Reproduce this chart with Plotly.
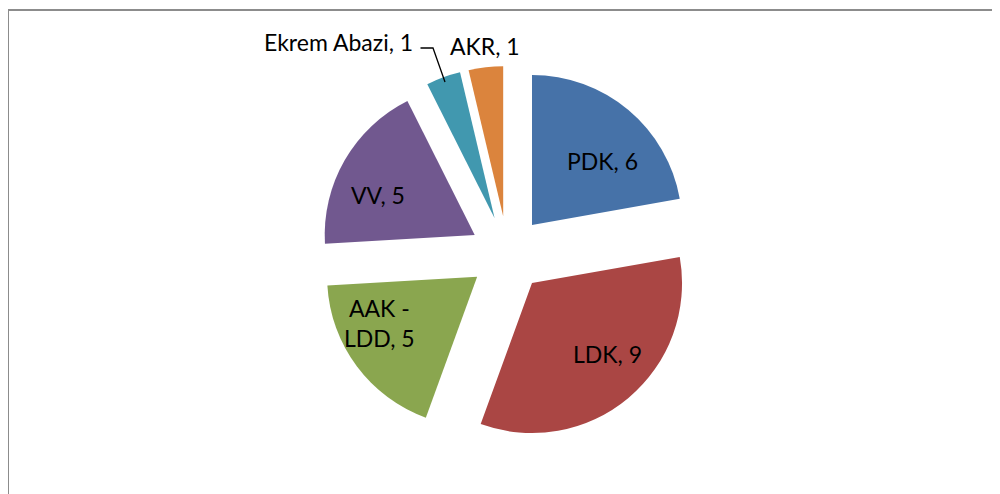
import math
import plotly.graph_objects as go

labels = ["PDK", "LDK", "AAK - LDD", "VV", "Ekrem Abazi", "AKR"]
display_labels = ["PDK", "LDK", "AAK -<br>LDD", "VV", "Ekrem Abazi", "AKR"]
values = [6, 9, 5, 5, 1, 1]
colors = ["#4672A8", "#AA4644", "#8AA64F", "#71588F", "#4198AF", "#DB843D"]

W, H = 1000, 494
PULL = 0.253
DOM_X = [0.3116, 0.6876]
DOM_Y = [0.1215, 0.8826]
FONT = dict(family="Lato", size=23, color="#000000")

# label placement (paper pixels from top-left): (x, y, xanchor)
LABEL_POS = [
    (594.5, 152.7, "center"),
    (599.5, 345.5, "center"),
    (371.0, 314.8, "center"),
    (370.0, 187.3, "center"),
    (407.0, 34.3, "right"),
    (440.0, 38.5, "left"),
]

fig = go.Figure(go.Pie(
    labels=labels,
    values=values,
    textinfo="none",
    marker=dict(colors=colors, line=dict(width=0)),
    pull=[PULL] * len(values),
    sort=False,
    direction="clockwise",
    rotation=0,
    hoverinfo="label+value+percent",
    domain=dict(x=DOM_X, y=DOM_Y),
    showlegend=False,
    automargin=False,
))

# geometry of the pie in paper pixels (same rule plotly uses)
box_w = W * (DOM_X[1] - DOM_X[0])
box_h = H * (DOM_Y[1] - DOM_Y[0])
r = min(box_w, box_h) / 2 / (1 + PULL)
cx = W * (DOM_X[0] + DOM_X[1]) / 2
cy = H * (1 - (DOM_Y[0] + DOM_Y[1]) / 2)  # from top


def to_paper(px, py):
    return px / W, 1 - py / H


for lab, val, (lx, ly, anc) in zip(display_labels, values, LABEL_POS):
    px, py = to_paper(lx, ly)
    fig.add_annotation(x=px, y=py, xref="paper", yref="paper", xanchor=anc, yanchor="middle",
                       text=f"{lab}, {val}", showarrow=False, font=FONT, align="center")

# leader line for the "Ekrem Abazi" slice
total = sum(values)
start = sum(values[:4])
mid_ekrem = (start + values[4] / 2) / total * 2 * math.pi
tip_r = r * (1 + PULL) - 5
tip = (cx + tip_r * math.sin(mid_ekrem), cy - tip_r * math.cos(mid_ekrem))
leader_start = (412.5, 40)
leader_knee = (425, 40)
p0 = to_paper(*leader_start)
p1 = to_paper(*leader_knee)
p2 = to_paper(*tip)
fig.add_shape(type="path", xref="paper", yref="paper",
              path=f"M {p0[0]},{p0[1]} L {p1[0]},{p1[1]} L {p2[0]},{p2[1]}",
              line=dict(color="#000000", width=1.3))

# chart-area border
fig.add_shape(type="rect", xref="paper", yref="paper",
              x0=0.0, x1=1.05, y0=-0.05, y1=1 - 2 / H,
              line=dict(color="#8C8C8C", width=2), fillcolor="rgba(0,0,0,0)")

fig.update_layout(
    width=W, height=H,
    margin=dict(l=0, r=0, t=0, b=0, pad=0, autoexpand=False),
    paper_bgcolor="#FFFFFF",
    plot_bgcolor="#FFFFFF",
)

fig.write_html("out.html")
